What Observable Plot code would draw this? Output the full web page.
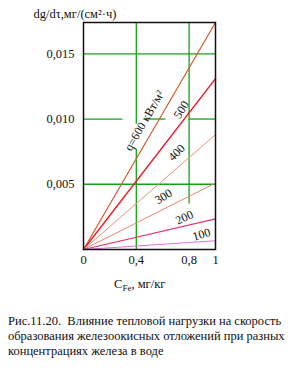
<!DOCTYPE html>
<html><head><meta charset="utf-8">
<script src="https://cdn.jsdelivr.net/npm/d3@7"></script>
<script src="https://cdn.jsdelivr.net/npm/@observablehq/plot@0.6"></script>
<style>
body{margin:0;background:#fff;font-family:"Liberation Serif","Times New Roman",serif;}
#chart svg{display:block;}
#caption{margin-top:19px;padding-left:8px;font-size:12.5px;line-height:15px;color:#111;font-family:"Liberation Serif","Times New Roman",serif;}
</style></head><body><div id="chart"></div>
<div id="caption">Рис.11.20.&nbsp; Влияние тепловой нагрузки на скорость<br>образования железоокисных отложений при разных<br>концентрациях железа в воде</div>
<script>
// series: heat load q, rate dg/dτ at C_Fe = 1 mg/kg (straight lines from origin)
const qValues = [600, 500, 400, 300, 200, 100];
const cFeValues = [0, 1];
const rateAtC0 = [0, 0, 0, 0, 0, 0];
const rateAtC1 = [0.0174, 0.0131, 0.0088, 0.0051, 0.00235, 0.00067];
const lineColors = ["#d4582e", "#e8202e", "#f0907e", "#ec8472", "#e2346c", "#e070e6"];
const lineWidths = [1.2, 1.5, 1, 1, 1.1, 1.1];

// curve labels
const labelText = ["q=600 кВт/м²", "500", "400", "300", "200", "100"];
const labelX = [0.462, 0.742, 0.705, 0.606, 0.765, 0.894];
const labelY = [0.00987, 0.01071, 0.00742, 0.00406, 0.00245, 0.00115];
const labelAngle = [-60, -57, -45, -32, -24, -17];

// ticks
const xTicks = [0, 0.4, 0.8, 1];
const xTickLabels = ["0", "0,4", "0,8", "1"];
const yTicks = [0.005, 0.010, 0.015];
const yTickLabels = ["0,005", "0,010", "0,015"];

// green grid segments (with gaps as in the original)
const gridX1 = [0, 0, 0, 0.47, 0.795, 0.4, 0.4, 0.8, 0.8];
const gridY1 = [0.005, 0.015, 0.010, 0.010, 0.010, 0, 0.00964, 0.00352, 0.0098];
const gridX2 = [1, 1, 0.295, 0.62, 1, 0.4, 0.4, 0.8, 0.8];
const gridY2 = [0.005, 0.015, 0.010, 0.010, 0.010, 0.00773, 0.0174, 0.0098, 0.0174];

const yTitle = "dg/dτ,мг/(см²·ч)";

const FONT = "'Liberation Serif', 'Times New Roman', serif";

const segs = [];
qValues.forEach((q, i) => {
  segs.push({q, c: cFeValues[0], r: rateAtC0[i]});
  segs.push({q, c: cFeValues[1], r: rateAtC1[i]});
});
const grid = gridX1.map((x1, i) => ({x1, y1: gridY1[i], x2: gridX2[i], y2: gridY2[i]}));
const labels = labelText.map((t, i) => ({t, x: labelX[i], y: labelY[i], a: labelAngle[i]}));

const plot = Plot.plot({
  width: 294, height: 295,
  marginLeft: 83, marginRight: 79, marginTop: 22, marginBottom: 46,
  style: {fontFamily: FONT, background: "white", color: "#111"},
  x: {domain: [0, 1], axis: null},
  y: {domain: [0, 0.0174], axis: null},
  marks: [
    Plot.link(grid, {x1: "x1", y1: "y1", x2: "x2", y2: "y2", stroke: "#16a016", strokeWidth: 1.3}),
    ...qValues.map((q, i) => Plot.line(segs.filter(d => d.q === q), {x: "c", y: "r", stroke: lineColors[i], strokeWidth: lineWidths[i]})),
    ...labels.map(d => Plot.text([d], {x: "x", y: "y", text: "t", rotate: d.a, fontSize: 12, fill: "#111"})),
    Plot.frame({stroke: "#111", strokeWidth: 1.5}),
    Plot.axisY(yTicks, {tickSize: 0, tickPadding: 9, fontSize: 12.5, tickFormat: (d, i) => yTickLabels[i]}),
    Plot.axisX(xTicks, {tickSize: 0, tickPadding: 6, fontSize: 12.5, tickFormat: (d, i) => xTickLabels[i]}),
    Plot.text([yTitle], {frameAnchor: "top-left", dx: -50, dy: -9, textAnchor: "start", lineAnchor: "middle", fontSize: 12.5, fill: "#111"})
  ]
});
document.getElementById("chart").append(plot);

// x-axis title with subscript
const svg = d3.select(plot);
const xs = plot.scale("x");
const t = svg.append("text")
  .attr("x", xs.apply(0.43)).attr("y", 288)
  .attr("text-anchor", "middle").attr("font-size", 12.5).attr("fill", "#111")
  .attr("font-family", FONT);
t.append("tspan").text("C");
t.append("tspan").attr("font-size", 9).attr("dy", 3).text("Fe");
t.append("tspan").attr("dy", -3).text(", мг/кг");
</script>
</body></html>
